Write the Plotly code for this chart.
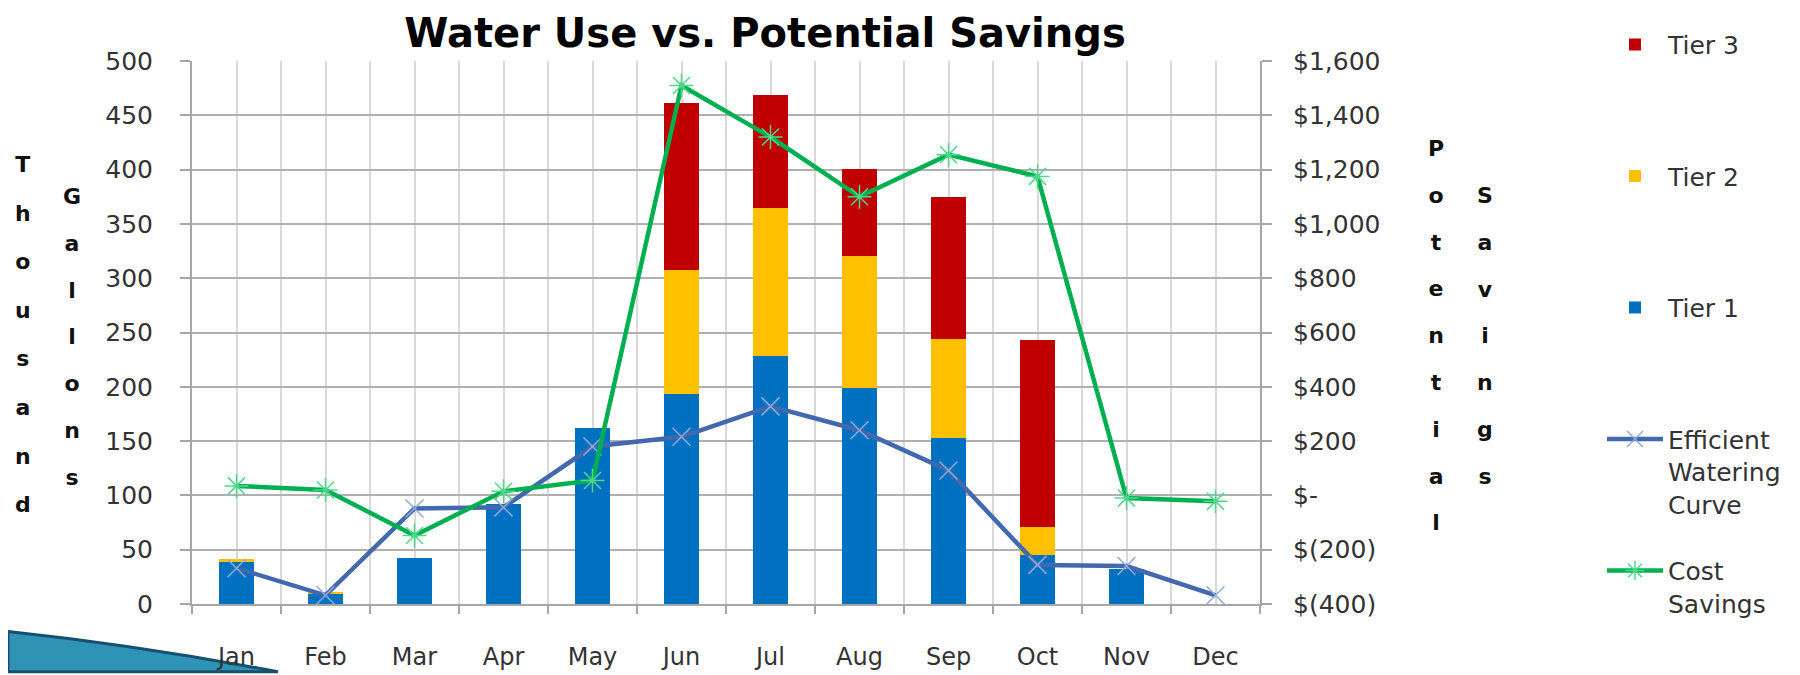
import plotly.graph_objects as go

# ---------------- data ----------------
MONTHS = ["Jan", "Feb", "Mar", "Apr", "May", "Jun", "Jul", "Aug", "Sep", "Oct", "Nov", "Dec"]
TIER1 = [39, 9, 42, 92, 162, 193, 228, 199, 153, 45, 32, 0]
TIER2 = [2, 2, 0, 0, 0, 115, 137, 121, 91, 26, 0, 0]
TIER3 = [0, 0, 0, 0, 0, 153, 104, 81, 131, 172, 0, 0]
EFFICIENT = [33, 8, 88, 89, 145, 154, 182, 160, 123, 36, 35, 8]
COST_SAVINGS = [35, 20, -148, 15, 55, 1510, 1320, 1100, 1255, 1175, -10, -22]

LEFT_TICKS = [0, 50, 100, 150, 200, 250, 300, 350, 400, 450, 500]
RIGHT_TICKS = [-400, -200, 0, 200, 400, 600, 800, 1000, 1200, 1400, 1600]
RIGHT_TICK_TEXT = ["$(400)", "$(200)", "$-", "$200", "$400", "$600", "$800",
                   "$1,000", "$1,200", "$1,400", "$1,600"]

TITLE = "Water Use vs. Potential Savings"
LEFT_TITLE_COLS = ["Thousand", "Gallons"]
RIGHT_TITLE_COLS = ["Potential", "Savings"]

# ---------------- layout geometry (pixels) ----------------
W, H = 1800, 675
PL, PR, PT, PB = 184, 1252, 53, 606


def px_x(x):
    return (x - PL) / (PR - PL)


def px_y(y):
    return (PB - y) / (PB - PT)


FONT = "DejaVu Sans"
TXT = "#333333"

x_idx = list(range(len(MONTHS)))
boundaries = [i - 0.5 for i in range(len(MONTHS) + 1)]

fig = go.Figure()
fig.add_trace(go.Bar(x=x_idx, y=TIER1, name="Tier 1<br> <br> ", marker=dict(color="#0070C0", line=dict(width=0)),
                     width=0.4, legendrank=3, legendgroup="t1"))
fig.add_trace(go.Bar(x=x_idx, y=TIER2, name="Tier 2<br> <br> ", marker=dict(color="#FFC000", line=dict(width=0)),
                     width=0.4, legendrank=2, legendgroup="t2"))
fig.add_trace(go.Bar(x=x_idx, y=TIER3, name="Tier 3<br> <br> ", marker=dict(color="#C00000", line=dict(width=0)),
                     width=0.4, legendrank=1, legendgroup="t3"))
fig.add_trace(go.Scatter(x=x_idx, y=EFFICIENT, name="Efficient<br>Watering<br>Curve", mode="lines+markers",
                         line=dict(color="#4268AE", width=4.5),
                         marker=dict(symbol="x-thin-open", size=18, color="#8FAADC",
                                     line=dict(color="#8FAADC", width=1.5)),
                         legendrank=4, legendgroup="eff"))
fig.add_trace(go.Scatter(x=x_idx, y=COST_SAVINGS, name="Cost<br>Savings", mode="lines+markers", yaxis="y2",
                         line=dict(color="#00B050", width=4.5),
                         marker=dict(symbol="asterisk-open", size=20, color="#4CD98A",
                                     line=dict(color="#4CD98A", width=1.5)),
                         legendrank=5, legendgroup="cost"))

annotations = []


def stacked(word, xpix, ypix_center, spacing_font=36, letter_size=22):
    letters = ["<span style='font-size:{}px'>{}</span>".format(letter_size, ch) for ch in word]
    annotations.append(dict(
        text="<br>".join(letters), xref="paper", yref="paper",
        x=px_x(xpix), y=px_y(ypix_center), xanchor="center", yanchor="middle",
        showarrow=False, align="center",
        font=dict(family=FONT, size=spacing_font, color="#111111", weight="bold")))


stacked(LEFT_TITLE_COLS[0], 15, 331.5, spacing_font=37.4)
stacked(LEFT_TITLE_COLS[1], 64, 334)
stacked(RIGHT_TITLE_COLS[0], 1428, 332.5)
stacked(RIGHT_TITLE_COLS[1], 1477, 333.5)

# decorative corner swoosh
sw = [(0, 634), (130, 648), (270, 675), (0, 675)]
path = "M {:.4f},{:.4f} Q {:.4f},{:.4f} {:.4f},{:.4f} L {:.4f},{:.4f} Z".format(
    px_x(sw[0][0]), px_y(sw[0][1]), px_x(sw[1][0]), px_y(sw[1][1]),
    px_x(sw[2][0]), px_y(sw[2][1]), px_x(sw[3][0]), px_y(sw[3][1]))
shapes = [dict(type="path", path=path, xref="paper", yref="paper",
               fillcolor="#2E93B5", line=dict(color="#174F6E", width=3), layer="below")]

fig.update_layout(
    width=W, height=H, autosize=False,
    margin=dict(l=PL, r=W - PR, t=PT, b=H - PB, pad=0),
    paper_bgcolor="white", plot_bgcolor="white",
    barmode="stack", bargap=0.6,
    font=dict(family=FONT, size=24, color=TXT),
    title=dict(text=TITLE, x=757 / W, xanchor="center", y=1 - 25 / H, yanchor="middle",
               font=dict(family=FONT, size=40, color="#000000", weight="bold")),
    xaxis=dict(
        range=[-0.5, len(MONTHS) - 0.5], tickmode="array", tickvals=x_idx, ticktext=MONTHS,
        ticks="", showgrid=True, gridcolor="#D9D9D9", gridwidth=1.5,
        showline=True, linecolor="#A6A6A6", linewidth=2, zeroline=False,
        ticklabelstandoff=30, tickfont=dict(size=24, color=TXT),
        minor=dict(tickmode="array", tickvals=boundaries, ticks="outside", ticklen=8,
                   tickcolor="#A6A6A6", tickwidth=2, showgrid=True, gridcolor="#D9D9D9", gridwidth=1.5),
        fixedrange=True,
    ),
    yaxis=dict(
        range=[0, 500], tickmode="array", tickvals=LEFT_TICKS,
        ticks="outside", ticklen=10, tickcolor="#A6A6A6", tickwidth=2,
        showgrid=True, gridcolor="#B0B0B0", gridwidth=2,
        showline=True, linecolor="#A6A6A6", linewidth=2, zeroline=False,
        ticklabelstandoff=22, tickfont=dict(size=25, color=TXT), fixedrange=True,
    ),
    yaxis2=dict(
        range=[-400, 1600], overlaying="y", side="right", tickmode="array",
        tickvals=RIGHT_TICKS, ticktext=RIGHT_TICK_TEXT,
        ticks="outside", ticklen=10, tickcolor="#A6A6A6", tickwidth=2,
        showgrid=False, showline=True, linecolor="#A6A6A6", linewidth=2, zeroline=False,
        ticklabelstandoff=16, tickfont=dict(size=25, color=TXT), fixedrange=True,
    ),
    legend=dict(
        x=px_x(1594), y=px_y(13), xanchor="left", yanchor="top",
        traceorder="grouped", tracegroupgap=31, valign="top",
        font=dict(family=FONT, size=25, color=TXT), itemwidth=56,
        bgcolor="rgba(0,0,0,0)", maxheight=670,
    ),
    showlegend=True,
    annotations=annotations,
    shapes=shapes,
)

fig.write_html("out.html")
